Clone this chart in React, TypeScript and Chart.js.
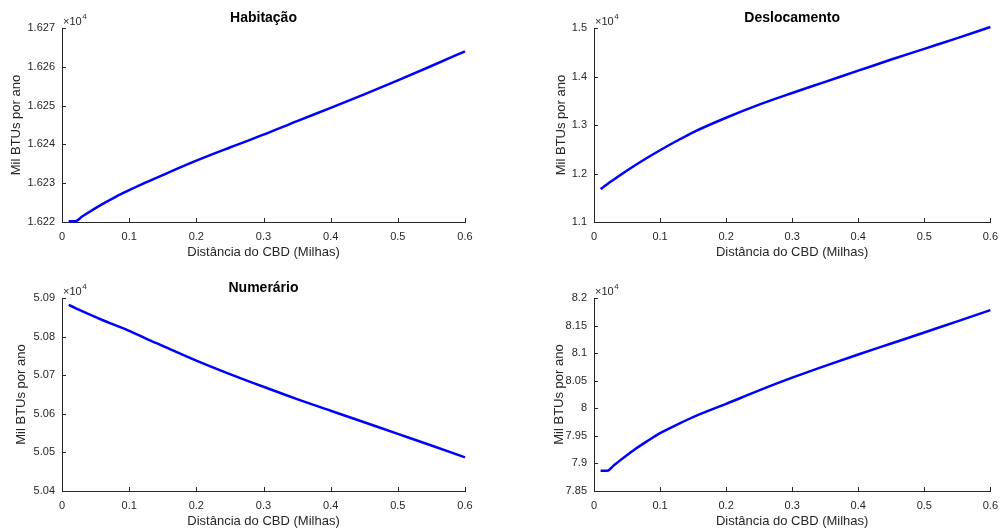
import React, { useEffect, useRef } from 'react';
import { Chart, registerables } from 'chart.js';

Chart.register(...registerables);

// ---- data ----
const distanceMiles = [0.01, 0.02, 0.03, 0.04, 0.06, 0.08, 0.1, 0.125, 0.15, 0.2, 0.25, 0.3, 0.35, 0.4, 0.45, 0.5, 0.55, 0.6];
const habitacao = [16220.2, 16220.2, 16221.4, 16222.5, 16224.6, 16226.5, 16228.2, 16230.2, 16232.1, 16235.8, 16239.2, 16242.5, 16246.0, 16249.4, 16252.9, 16256.5, 16260.2, 16264.0];
const deslocamento = [11680, 11780, 11875, 11970, 12150, 12320, 12480, 12670, 12850, 13150, 13420, 13660, 13890, 14120, 14350, 14570, 14790, 15020];
const numerario = [50882, 50874, 50866, 50858, 50843, 50829, 50815, 50795, 50776, 50738, 50703, 50670, 50638, 50608, 50578, 50548, 50518, 50487];
const totalEnergia = [78868, 78868, 78965, 79060, 79240, 79400, 79550, 79700, 79840, 80080, 80325, 80555, 80770, 80975, 81175, 81375, 81575, 81780];

const panelTitles = ['Habitação', 'Deslocamento', 'Numerário', ''];
const xAxisLabel = 'Distância do CBD (Milhas)';
const yAxisLabel = 'Mil BTUs por ano';
const exponentBase = '×10';
const exponentPower = '4';
const xTickRange = { min: 0, max: 0.6, step: 0.1 };
const yTickRanges = [
  { min: 16220, max: 16270, step: 10 },
  { min: 11000, max: 15000, step: 1000 },
  { min: 50400, max: 50900, step: 100 },
  { min: 78500, max: 82000, step: 500 },
];

const FONT = '"Liberation Sans", Arial, Helvetica, sans-serif';
const INK = '#262626';

type Box = { x: number; y: number; w: number; h: number };
type Area = { left: number; top: number; right: number; bottom: number };

const layouts: { canvas: Box; area: Area; ylabelOffset: number }[] = [
  { canvas: { x: 0, y: 0, w: 503, h: 264 }, area: { left: 62, top: 28, right: 465, bottom: 222 }, ylabelOffset: 42 },
  { canvas: { x: 503, y: 0, w: 503, h: 264 }, area: { left: 594, top: 28, right: 998, bottom: 222 }, ylabelOffset: 29 },
  { canvas: { x: 0, y: 264, w: 503, h: 264 }, area: { left: 62, top: 298, right: 465, bottom: 491 }, ylabelOffset: 37 },
  { canvas: { x: 503, y: 264, w: 503, h: 264 }, area: { left: 594, top: 298, right: 998, bottom: 491 }, ylabelOffset: 31 },
];

const seriesList = [habitacao, deslocamento, numerario, totalEnergia];

function fmtY(v: number | string) {
  return String(parseFloat((Number(v) / 1e4).toFixed(4)));
}
function fmtX(v: number | string) {
  return String(parseFloat(Number(v).toFixed(2)));
}

function Subplot({ index }: { index: number }) {
  const ref = useRef<HTMLCanvasElement>(null);
  const { canvas, area, ylabelOffset } = layouts[index];
  useEffect(() => {
    if (!ref.current) return;
    const values = seriesList[index];
    const yr = yTickRanges[index];
    const title = panelTitles[index];
    const decor = {
      id: 'matlabDecor',
      afterDraw(chart: any) {
        const { ctx, chartArea: a, scales } = chart;
        const xs = scales.x;
        const ys = scales.y;
        ctx.save();
        // inward tick marks
        ctx.strokeStyle = INK;
        ctx.lineWidth = 1;
        ctx.beginPath();
        xs.ticks.forEach((t: any) => {
          const px = Math.round(xs.getPixelForValue(t.value)) + 0.5;
          ctx.moveTo(px, a.bottom);
          ctx.lineTo(px, a.bottom - 4);
        });
        ys.ticks.forEach((t: any) => {
          const py = Math.round(ys.getPixelForValue(t.value)) + 0.5;
          ctx.moveTo(a.left, py);
          ctx.lineTo(a.left + 4, py);
        });
        ctx.stroke();
        // exponent
        ctx.fillStyle = INK;
        ctx.textAlign = 'left';
        ctx.textBaseline = 'alphabetic';
        ctx.font = `11px ${FONT}`;
        const bx = a.left + 1;
        ctx.fillText(exponentBase, bx, a.top - 3);
        const w = ctx.measureText(exponentBase).width;
        ctx.font = `8px ${FONT}`;
        ctx.fillText(exponentPower, bx + w + 0.5, a.top - 9);
        // title
        if (title) {
          ctx.fillStyle = '#000';
          ctx.font = `bold 14px ${FONT}`;
          ctx.textAlign = 'center';
          ctx.fillText(title, (a.left + a.right) / 2, a.top - 6.5);
        }
        // x label
        ctx.fillStyle = INK;
        ctx.font = `13px ${FONT}`;
        ctx.textAlign = 'center';
        ctx.fillText(xAxisLabel, (a.left + a.right) / 2, a.bottom + 33.5);
        // y label
        ctx.translate(a.left - ylabelOffset, (a.top + a.bottom) / 2);
        ctx.rotate(-Math.PI / 2);
        ctx.fillText(yAxisLabel, 0, 0);
        ctx.restore();
      },
    };
    const chart = new Chart(ref.current, {
      type: 'line',
      data: {
        datasets: [
          {
            data: distanceMiles.map((x, i) => ({ x, y: values[i] })),
            borderColor: '#0000ff',
            borderWidth: 2.5,
            pointRadius: 0,
            fill: false,
            cubicInterpolationMode: 'monotone',
            clip: false,
          } as any,
        ],
      },
      options: {
        animation: false,
        responsive: false,
        maintainAspectRatio: false,
        layout: {
          padding: {
            left: 0,
            top: area.top - canvas.y,
            right: canvas.x + canvas.w - area.right,
            bottom: 0,
          },
        },
        plugins: {
          legend: { display: false },
          tooltip: { enabled: false },
          title: { display: false },
        },
        scales: {
          x: {
            type: 'linear',
            min: xTickRange.min,
            max: xTickRange.max,
            ticks: {
              stepSize: xTickRange.step,
              padding: 8,
              color: INK,
              font: { family: FONT, size: 11 },
              callback: (v: any) => fmtX(v),
              autoSkip: false,
              maxRotation: 0,
            },
            grid: { display: false, drawTicks: false },
            border: { display: true, color: INK, width: 1 },
            afterFit: (s: any) => {
              s.height = canvas.y + canvas.h - area.bottom;
            },
          },
          y: {
            type: 'linear',
            min: yr.min,
            max: yr.max,
            ticks: {
              stepSize: yr.step,
              padding: 7,
              color: INK,
              font: { family: FONT, size: 11 },
              callback: (v: any) => fmtY(v),
              autoSkip: false,
            },
            grid: { display: false, drawTicks: false },
            border: { display: true, color: INK, width: 1 },
            afterFit: (s: any) => {
              s.width = area.left - canvas.x;
            },
          },
        },
      } as any,
      plugins: [decor],
    });
    return () => chart.destroy();
  }, [index]);
  return (
    <canvas
      ref={ref}
      width={canvas.w}
      height={canvas.h}
      style={{ position: 'absolute', left: canvas.x, top: canvas.y, width: canvas.w, height: canvas.h }}
    />
  );
}

export default function App() {
  return (
    <div style={{ position: 'absolute', left: 0, top: 0, width: 1006, height: 528, background: '#fff' }}>
      {[0, 1, 2, 3].map((i) => (
        <Subplot key={i} index={i} />
      ))}
    </div>
  );
}
